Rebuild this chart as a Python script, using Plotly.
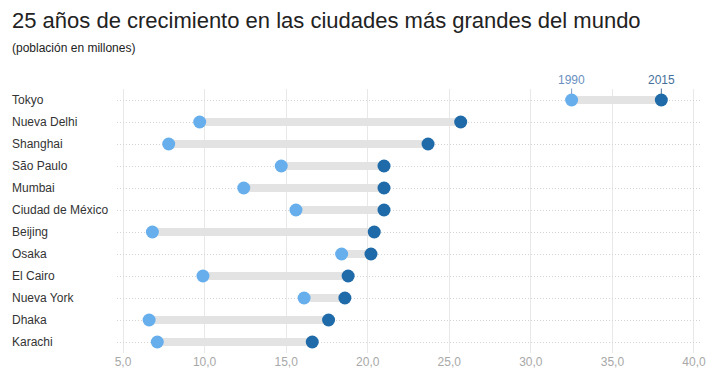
import plotly.graph_objects as go

cities = ["Tokyo", "Nueva Delhi", "Shanghai", "São Paulo", "Mumbai", "Ciudad de México",
          "Beijing", "Osaka", "El Cairo", "Nueva York", "Dhaka", "Karachi"]
pop_1990 = [32.5, 9.7, 7.8, 14.7, 12.4, 15.6, 6.8, 18.4, 9.9, 16.1, 6.6, 7.1]
pop_2015 = [38.0, 25.7, 23.7, 21.0, 21.0, 21.0, 20.4, 20.2, 18.8, 18.6, 17.6, 16.6]
tick_vals = [5, 10, 15, 20, 25, 30, 35, 40]
tick_text = ["5,0", "10,0", "15,0", "20,0", "25,0", "30,0", "35,0", "40,0"]

C1990 = "#67aeec"
C2015 = "#1f6aa8"

W, H = 710, 379
ML, MR, MT, MB = 109, 15, 81, 34
PW, PH = W - ML - MR, H - MT - MB

fig = go.Figure()

bx, by = [], []
for c, a, b in zip(cities, pop_1990, pop_2015):
    bx += [a, b, None]
    by += [c, c, None]
fig.add_trace(go.Scatter(x=bx, y=by, mode="lines",
                         line=dict(color="#e3e3e3", width=8),
                         hoverinfo="skip", showlegend=False))
fig.add_trace(go.Scatter(x=pop_1990, y=cities, mode="markers", name="1990",
                         marker=dict(color=C1990, size=13), showlegend=False))
fig.add_trace(go.Scatter(x=pop_2015, y=cities, mode="markers", name="2015",
                         marker=dict(color=C2015, size=13), showlegend=False))

annotations = []
for c in cities:
    annotations.append(dict(x=(1 - ML) / PW, xref="paper", y=c, yref="y", text=c,
                            showarrow=False, xanchor="left", yanchor="middle",
                            font=dict(size=12, color="#333333")))
annotations.append(dict(x=pop_1990[0], y=cities[0], xref="x", yref="y", text="1990",
                        showarrow=True, arrowhead=0, arrowwidth=1, arrowcolor="#7a9cc6",
                        ax=0, ay=-20, standoff=6,
                        font=dict(size=12, color="#6a8fc0")))
annotations.append(dict(x=pop_2015[0], y=cities[0], xref="x", yref="y", text="2015",
                        showarrow=True, arrowhead=0, arrowwidth=1, arrowcolor="#44709a",
                        ax=0, ay=-20, standoff=6,
                        font=dict(size=12, color="#44709a")))
annotations.append(dict(x=(1 - ML) / PW, xref="paper", y=1 + (MT - 40) / PH, yref="paper",
                        text="(población en millones)", showarrow=False,
                        xanchor="left", yanchor="middle",
                        font=dict(size=12, color="#222222")))

fig.update_layout(
    width=W, height=H,
    margin=dict(l=ML, r=MR, t=MT, b=MB),
    paper_bgcolor="white", plot_bgcolor="white",
    font=dict(family="Liberation Sans, Arial, sans-serif"),
    title=dict(text="25 años de crecimiento en las ciudades más grandes del mundo",
               x=4 / W, xref="container", xanchor="left",
               y=1 - 12 / H, yref="container", yanchor="middle",
               font=dict(size=22, color="#222222")),
    xaxis=dict(range=[4.63, 40.37], tickvals=tick_vals, ticktext=tick_text,
               showgrid=True, gridcolor="#e8e8e8", gridwidth=1,
               zeroline=False, showline=False, ticks="",
               tickfont=dict(size=12, color="#a8a8a8"), fixedrange=True),
    yaxis=dict(categoryorder="array", categoryarray=cities,
               range=[len(cities) - 0.5, -0.5],
               showticklabels=False, showgrid=True, gridcolor="#d4d4d4",
               griddash="1px,2px", gridwidth=1, zeroline=False, showline=False,
               ticks="", fixedrange=True),
    annotations=annotations,
)

fig.write_html("out.html")
